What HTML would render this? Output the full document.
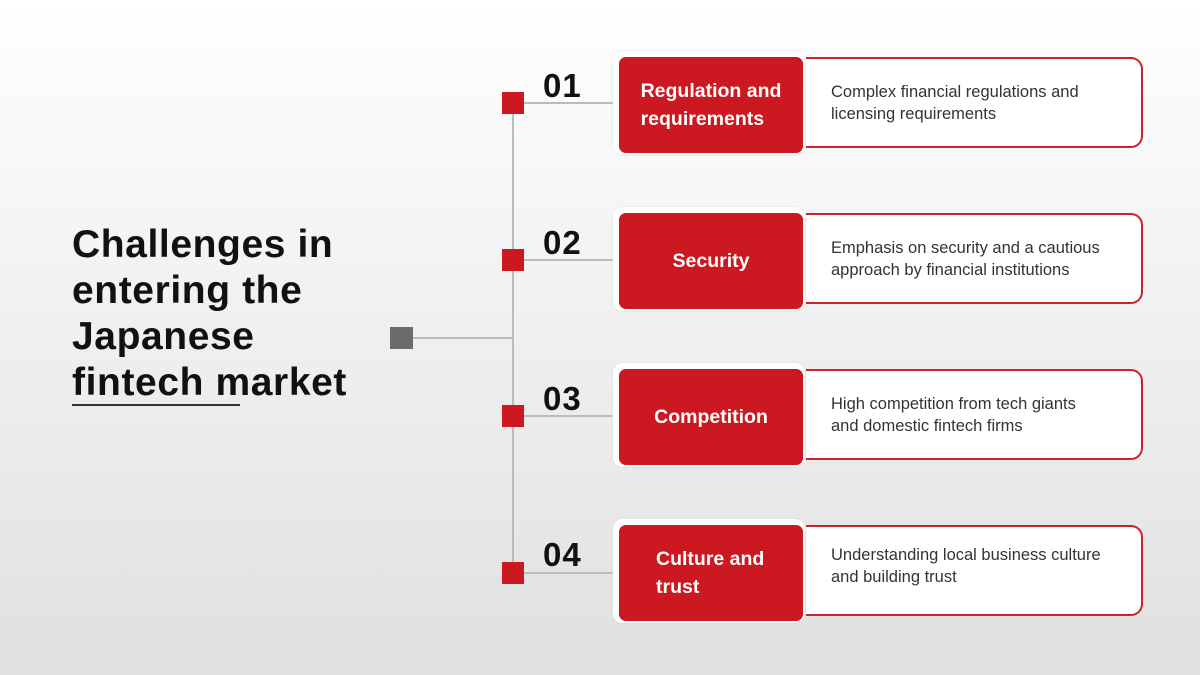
<!DOCTYPE html>
<html><head><meta charset="utf-8"><style>
body{margin:0;width:1200px;height:675px;overflow:hidden;background:linear-gradient(#ffffff,#e0e0e0);font-family:"Liberation Sans",sans-serif;position:relative}
.a{position:absolute}
.title{left:72px;top:222px;font-size:39px;font-weight:bold;line-height:46px;color:#111;letter-spacing:0.6px}
.sq{width:22px;height:22px;background:#cc1820}
.num{font-size:33px;font-weight:bold;color:#111;letter-spacing:1px}
.outer{width:192px;height:104px;background:#fff;border-radius:10px;box-shadow:0 0 2px #ddd}
.red{width:184px;height:96px;background:#cc1820;border-radius:7px;color:#fff;font-weight:bold;font-size:19.5px;line-height:28px;display:flex;align-items:center;justify-content:center;text-align:left}
.desc{width:337px;height:87px;background:#fff;border:2px solid #c8242b;border-left:none;border-radius:0 12px 12px 0;color:#333;font-size:16.5px;line-height:22px;padding-left:25px;box-sizing:border-box;display:flex;align-items:center}
</style></head><body>
<div class="a title">Challenges in<br>entering the<br>Japanese<br>fintech market</div>
<div class="a" style="left:72px;top:404px;width:168px;height:2px;background:#333"></div>
<div class="a" style="left:390px;top:327px;width:23px;height:22px;background:#6b6b6b"></div>
<div class="a" style="left:413px;top:337px;width:100px;height:2px;background:#bbb"></div>
<div class="a" style="left:512px;top:103px;width:2px;height:470px;background:#bbb"></div>

<div class="a" style="left:524px;top:102px;width:90px;height:2px;background:#bbb"></div>
<div class="a sq" style="left:502px;top:92px"></div>
<div class="a num" style="left:543px;top:67px">01</div>
<div class="a desc" style="left:806px;top:57px;height:91px">Complex financial regulations and<br>licensing requirements</div>
<div class="a outer" style="left:613px;top:51px"></div>
<div class="a red" style="left:619px;top:57px">Regulation and<br>requirements</div>

<div class="a" style="left:524px;top:259px;width:90px;height:2px;background:#bbb"></div>
<div class="a sq" style="left:502px;top:249px"></div>
<div class="a num" style="left:543px;top:224px">02</div>
<div class="a desc" style="left:806px;top:213px;height:91px">Emphasis on security and a cautious<br>approach by financial institutions</div>
<div class="a outer" style="left:613px;top:207px"></div>
<div class="a red" style="left:619px;top:213px">Security</div>

<div class="a" style="left:524px;top:415px;width:90px;height:2px;background:#bbb"></div>
<div class="a sq" style="left:502px;top:405px"></div>
<div class="a num" style="left:543px;top:380px">03</div>
<div class="a desc" style="left:806px;top:369px;height:91px">High competition from tech giants<br>and domestic fintech firms</div>
<div class="a outer" style="left:613px;top:363px"></div>
<div class="a red" style="left:619px;top:369px">Competition</div>

<div class="a" style="left:524px;top:572px;width:90px;height:2px;background:#bbb"></div>
<div class="a sq" style="left:502px;top:562px"></div>
<div class="a num" style="left:543px;top:536px">04</div>
<div class="a desc" style="left:806px;top:525px;height:91px;align-items:flex-start;padding-top:17px">Understanding local business culture<br>and building trust</div>
<div class="a outer" style="left:613px;top:519px"></div>
<div class="a red" style="left:619px;top:525px;justify-content:flex-start;padding-left:37px;box-sizing:border-box">Culture and<br>trust</div>
</body></html>
